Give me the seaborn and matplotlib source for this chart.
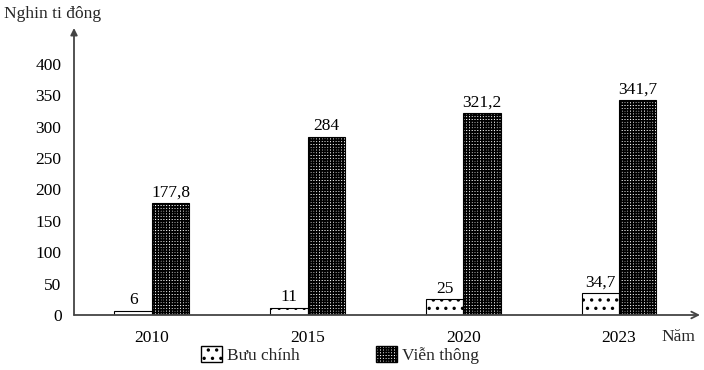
import matplotlib
matplotlib.use("Agg")
import matplotlib.pyplot as plt
import matplotlib.patches as mpatches
import seaborn as sns
import pandas as pd

years = ["2010", "2015", "2020", "2023"]
buu_chinh = [6, 11, 25, 34.7]
vien_thong = [177.8, 284, 321.2, 341.7]
series_names = ["Bưu chính", "Viễn thông"]
y_ticks = [0, 50, 100, 150, 200, 250, 300, 350, 400]

sns.set_theme(style="white")
plt.rcParams["font.family"] = ["Liberation Serif", "DejaVu Serif"]
plt.rcParams["hatch.linewidth"] = 1.2

FS = 12.5

df = pd.DataFrame({
    "year": years * 2,
    "value": buu_chinh + vien_thong,
    "series": [series_names[0]] * 4 + [series_names[1]] * 4,
})

fig = plt.figure(figsize=(7.04, 3.70), dpi=100)
ax = fig.add_axes([74 / 704, 55 / 370, 626 / 704, 287 / 370])

sns.barplot(data=df, x="year", y="value", hue="series", hue_order=series_names,
            palette=["white", "white"], edgecolor="black", linewidth=0.8,
            width=0.48, legend=False, ax=ax, errorbar=None)

hatches = ["..", "++++++"]
for cont, h in zip(ax.containers, hatches):
    for bar in cont:
        bar.set_hatch(h)
        bar.set_edgecolor("black")

for cont, vals in zip(ax.containers, [buu_chinh, vien_thong]):
    labels = [f"{v:g}".replace(".", ",") for v in vals]
    ax.bar_label(cont, labels=labels, padding=2, fontsize=FS, color="black")

ax.set_xlim(-0.5, 3.52)
ax.set_ylim(0, 457)
ax.set_yticks(y_ticks)
ax.set_yticklabels([str(t) for t in y_ticks], fontsize=FS)
ax.tick_params(axis="y", direction="inout", length=10, width=1, color="#444",
               pad=4, labelcolor="black")
ax.tick_params(axis="x", length=0, pad=11, labelsize=FS, labelcolor="black")
ax.set_xlabel("")
ax.set_ylabel("")
for s in ax.spines.values():
    s.set_visible(False)

ax.annotate("", xy=(0, 1), xytext=(0, 0), xycoords="axes fraction",
            arrowprops=dict(arrowstyle="-|>", color="#444", lw=1.3,
                            mutation_scale=10, shrinkA=0, shrinkB=0))
ax.annotate("", xy=(1, 0), xytext=(0, 0), xycoords="axes fraction",
            arrowprops=dict(arrowstyle="->", color="#444", lw=1.3,
                            mutation_scale=12, shrinkA=0, shrinkB=0))

fig.text(678 / 704, 1 - 337 / 370, "Năm", fontsize=FS, ha="center", va="center")
fig.text(4 / 704, 1 - 14 / 370, "Nghin ti đông", fontsize=FS, ha="left", va="center")

handles = [mpatches.Patch(facecolor="white", edgecolor="black", hatch=h, label=n)
           for h, n in zip(hatches, series_names)]
fig.legend(handles=handles, loc="center", bbox_to_anchor=(340 / 704, 15 / 370),
           ncol=2, frameon=False, fontsize=FS, handlelength=1.2, handleheight=1.0,
           handletextpad=0.3, columnspacing=4.4)

fig.savefig("out.png", dpi=100)
